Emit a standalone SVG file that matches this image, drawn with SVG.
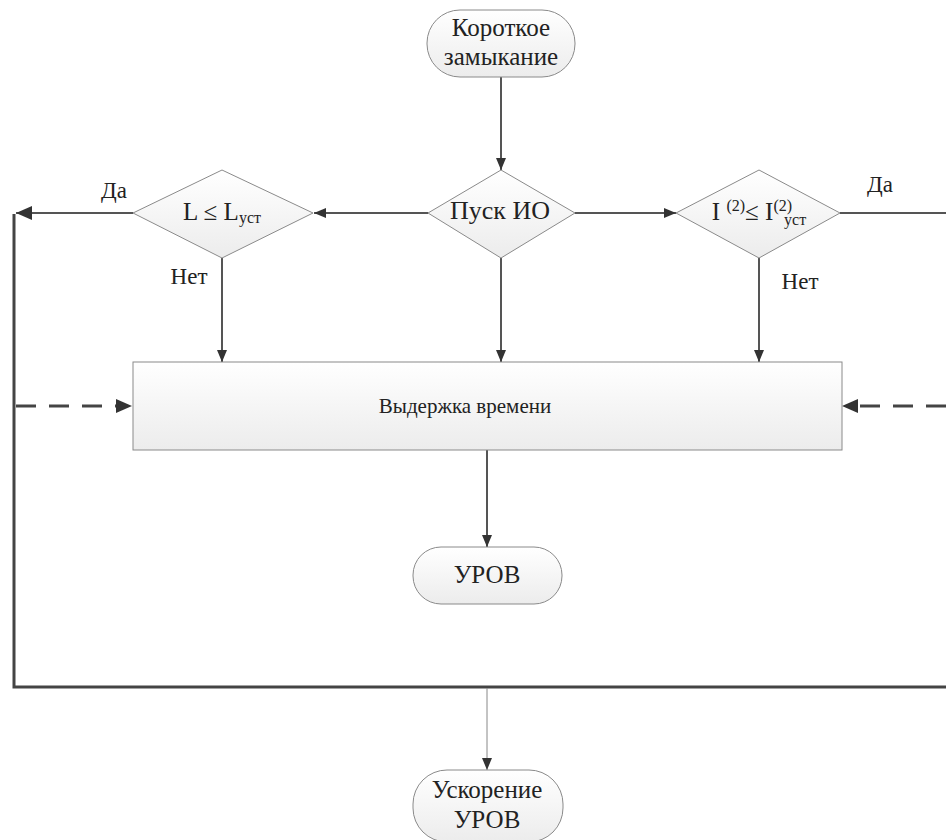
<svg xmlns="http://www.w3.org/2000/svg" width="946" height="840" viewBox="0 0 946 840">
<style>
text{font-family:Liberation Serif,Times New Roman,serif;font-size:25px;fill:#222;text-anchor:middle}
.n{fill:url(#g);stroke:#8a8a8a;stroke-width:1}
.c{fill:none;stroke:#555;stroke-width:2}
.k{fill:none;stroke:#444;stroke-width:3}
.d{fill:none;stroke:#444;stroke-width:3;stroke-dasharray:20,13}
.s{font-size:16px}
.l{font-size:23px}
</style>
<defs>
<linearGradient id="g" x1="0" y1="0" x2="0" y2="1">
<stop offset="0" stop-color="#ffffff"/>
<stop offset="1" stop-color="#ececec"/>
</linearGradient>
<marker id="a" viewBox="0 0 12 10" refX="12" refY="5" markerWidth="12" markerHeight="10" markerUnits="userSpaceOnUse" orient="auto">
<path d="M0,0 L12,5 L0,10 z" fill="#333"/>
</marker>
<marker id="b" viewBox="0 0 16 14" refX="16" refY="7" markerWidth="16" markerHeight="14" markerUnits="userSpaceOnUse" orient="auto">
<path d="M0,0 L16,7 L0,14 z" fill="#333"/>
</marker>
</defs>
<g id="connectors">
<line class="c" x1="501" y1="77" x2="501" y2="170" marker-end="url(#a)"/>
<line class="c" x1="428" y1="213" x2="314" y2="213" marker-end="url(#a)"/>
<line class="c" x1="575" y1="213" x2="676" y2="213" marker-end="url(#a)"/>
<line class="c" x1="133" y1="213" x2="16" y2="213" marker-end="url(#b)"/>
<line class="c" x1="840" y1="213" x2="946" y2="213"/>
<line class="c" x1="222" y1="258" x2="222" y2="362" marker-end="url(#a)"/>
<line class="c" x1="501" y1="258" x2="501" y2="362" marker-end="url(#a)"/>
<line class="c" x1="759" y1="258" x2="759" y2="362" marker-end="url(#a)"/>
<polyline class="k" points="14,214 14,687 946,687"/>
<line class="d" x1="16" y1="406" x2="116" y2="406"/>
<path d="M116,399 L132,406 L116,413 z" fill="#333"/>
<line class="d" x1="946" y1="406" x2="858" y2="406"/>
<path d="M858,399 L842,406 L858,413 z" fill="#333"/>
<line class="c" x1="487" y1="450" x2="487" y2="547" marker-end="url(#a)"/>
<line x1="487" y1="688" x2="487" y2="770" stroke="#888" stroke-width="1" marker-end="url(#a)"/>
</g>
<g id="start">
<rect class="n" x="427" y="10" width="148" height="67" rx="33"/>
<text x="501" y="36">Короткое</text>
<text x="501" y="65">замыкание</text>
</g>
<g id="pusk">
<polygon class="n" points="501,170 575,213 501,258 428,213"/>
<text x="500" y="219" style="font-size:26px">Пуск ИО</text>
</g>
<g id="cond-l">
<polygon class="n" points="222,170 313,213 222,258 133,213"/>
<text x="222" y="220">L ≤ L<tspan class="s" dy="3">уст</tspan></text>
</g>
<g id="cond-i">
<polygon class="n" points="759,170 840,213 759,258 676,213"/>
<text x="759" y="220">I <tspan class="s" dy="-9">(2)</tspan><tspan dy="9">≤ I</tspan><tspan class="s" dy="-9">(2)</tspan><tspan class="s" dy="14" dx="-8">уст</tspan></text>
</g>
<g id="labels">
<text class="l" x="114" y="198">Да</text>
<text class="l" x="880" y="192">Да</text>
<text class="l" x="189" y="284">Нет</text>
<text class="l" x="800" y="289">Нет</text>
</g>
<g id="delay">
<rect class="n" x="133" y="362" width="709" height="88"/>
<text x="465" y="413" style="font-size:21px">Выдержка времени</text>
</g>
<g id="urov">
<rect class="n" x="413" y="547" width="149" height="57" rx="28"/>
<text x="487" y="583">УРОВ</text>
</g>
<g id="uskor">
<rect class="n" x="413" y="770" width="150" height="72" rx="34"/>
<text x="487" y="798">Ускорение</text>
<text x="487" y="828">УРОВ</text>
</g>
</svg>
